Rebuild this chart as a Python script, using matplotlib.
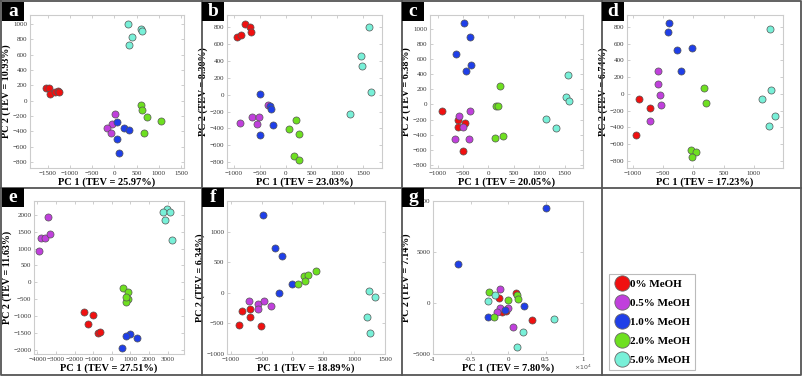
import matplotlib
matplotlib.use("Agg")
import matplotlib.pyplot as plt
from matplotlib.lines import Line2D
from matplotlib.patches import Rectangle
import numpy as np

plt.rcParams['font.family'] = ['Liberation Serif', 'DejaVu Serif']

groups = ['0% MeOH', '0.5% MeOH', '1.0% MeOH', '2.0% MeOH', '5.0% MeOH']
colors = ['#f01010', '#c040dc', '#1f3fe8', '#6ee020', '#78f0d8']

# PCA scores per panel: {group: (pc1 list, pc2 list)}
a_pts = {
    '0% MeOH': ([-1530, -1480, -1450, -1340, -1280, -1250], [160, 170, 90, 120, 130, 120]),
    '0.5% MeOH': ([8, -45, -160, -70], [-170, -300, -360, -420]),
    '1.0% MeOH': ([70, 220, 320, 60, 106], [-280, -356, -378, -496, -683]),
    '2.0% MeOH': ([610, 630, 730, 1050, 665], [-52, -117, -217, -260, -420]),
    '5.0% MeOH': ([310, 590, 630, 390, 325], [1000, 935, 905, 830, 722]),
}
b_pts = {
    '0% MeOH': ([-930, -860, -790, -686, -673], [685, 704, 836, 800, 740]),
    '0.5% MeOH': ([-346, -641, -519, -545, -872], [-119, -265, -261, -352, -336]),
    '1.0% MeOH': ([-487, -301, -276, -244, -487], [7, -131, -174, -364, -482]),
    '2.0% MeOH': ([199, 70, 256, 160, 263], [-299, -406, -465, -726, -773]),
    '5.0% MeOH': ([1609, 1449, 1474, 1641, 1244], [808, 464, 345, 29, -228]),
}
c_pts = {
    '0% MeOH': ([-922, -595, -595, -458, -510], [-84, -208, -305, -248, -615]),
    '0.5% MeOH': ([-588, -363, -510, -660, -392], [-159, -93, -305, -460, -456]),
    '1.0% MeOH': ([-480, -363, -631, -350, -435], [1088, 903, 668, 531, 451]),
    '2.0% MeOH': ([229, 157, 190, 288, 131], [243, -27, -27, -425, -447]),
    '5.0% MeOH': ([1569, 1516, 1588, 1137, 1320], [398, 93, 49, -195, -319]),
}
d_pts = {
    '0% MeOH': ([-898, -710, -953], [-56, -170, -487]),
    '0.5% MeOH': ([-584, -584, -551, -529, -716], [273, 111, -12, -135, -329]),
    '1.0% MeOH': ([-402, -424, -264, -17, -198], [840, 741, 523, 543, 277]),
    '2.0% MeOH': ([176, 204, -39, 44, -22], [67, -115, -669, -693, -752]),
    '5.0% MeOH': ([1261, 1283, 1134, 1355, 1244], [772, 40, -56, -261, -380]),
}
e_pts = {
    '0% MeOH': ([-1508, -1005, -1275, -736, -646], [-889, -968, -1235, -1492, -1463]),
    '0.5% MeOH': ([-3429, -3788, -3590, -3303, -3914], [1941, 1308, 1328, 1437, 943]),
    '1.0% MeOH': ([969, 790, 1364, 575], [-1522, -1581, -1660, -1957]),
    '2.0% MeOH': ([610, 880, 880, 754, 754], [-158, -286, -484, -573, -424]),
    '5.0% MeOH': ([2944, 2765, 3124, 2837, 3232], [2178, 2099, 2099, 1842, 1245]),
}
f_pts = {
    '0% MeOH': ([-819, -691, -685, -867, -509], [-296, -263, -400, -526, -542]),
    '0.5% MeOH': ([-707, -551, -455, -562, -348], [-142, -181, -131, -257, -219]),
    '1.0% MeOH': ([-471, -278, -166, 0, -225], [1276, 728, 597, 137, 0]),
    '2.0% MeOH': ([86, 193, 257, 203, 385], [137, 279, 290, 192, 350]),
    '5.0% MeOH': ([1247, 1338, 1210, 1253], [27, -71, -400, -657]),
}
g_pts = {
    '0% MeOH': ([-1200, 1110, 3160, -840, -220], [523, 948, -1634, -850, -784]),
    '0.5% MeOH': ([-1110, -1110, -1470, 40, 620], [1405, -523, -915, -490, -2353]),
    '1.0% MeOH': ([5110, -6670, 2130, -2710, -440], [9346, 3856, -294, -1405, -654]),
    '2.0% MeOH': ([-2530, 40, 1200, 1380, -1820], [1046, 327, 784, 392, -1405]),
    '5.0% MeOH': ([6130, -2710, -1690, 2000, 1160], [-1569, 196, 784, -2810, -4346]),
}

panels = [
    # letter, data, tev1, tev2, xlim, ylim, xticks, yticks, axes rect (px: left, top, right, bottom)
    ('a', a_pts, '25.97', '10.93', (-1900, 1570), (-880, 1120),
     np.arange(-1500, 1501, 500), np.arange(-800, 1001, 200), (30, 15, 184, 168)),
    ('b', b_pts, '23.03', '8.30', (-1130, 1860), (-870, 945),
     np.arange(-1000, 1501, 500), np.arange(-800, 801, 200), (227, 15, 382, 168)),
    ('c', c_pts, '20.05', '6.38', (-1150, 1860), (-845, 1190),
     np.arange(-1000, 1501, 500), np.arange(-800, 1001, 200), (430, 15, 583, 168)),
    ('d', d_pts, '17.23', '6.74', (-1095, 1480), (-885, 940),
     np.arange(-1000, 1001, 500), np.arange(-800, 801, 200), (627, 15, 783, 168)),
    ('e', e_pts, '27.51', '11.63', (-4180, 3880), (-2130, 2415),
     np.arange(-4000, 3001, 1000), np.arange(-2000, 2001, 500), (34, 201, 184, 354)),
    ('f', f_pts, '18.89', '6.34', (-1060, 1500), (-1000, 1500),
     np.arange(-1000, 1501, 500), np.arange(-1000, 1501, 500), (227, 201, 385, 354)),
    ('g', g_pts, '7.80', '7.14', (-10000, 10000), (-5000, 10000),
     np.arange(-10000, 10001, 5000), np.arange(-5000, 10001, 5000), (433, 201, 583, 354)),
]

W, H = 805, 377
fig = plt.figure(figsize=(W / 100, H / 100), dpi=100)

for letter, pts, tev1, tev2, xl, yl, xt, yt, (l, t, r, b) in panels:
    ax = fig.add_axes([l / W, 1 - b / H, (r - l) / W, (b - t) / H])
    for g, c in zip(groups, colors):
        xs, ys = pts[g]
        ax.scatter(xs, ys, s=26, c=c, edgecolors='#555555', linewidths=0.5, zorder=3)
    ax.set_xlim(*xl)
    ax.set_ylim(*yl)
    ax.set_xticks(xt)
    ax.set_yticks(yt)
    if letter == 'g':
        ax.set_xticklabels([f'{v / 1e4:g}' for v in xt])
        ax.text(1.0, -0.09, r'$\times10^4$', transform=ax.transAxes, fontsize=4.5,
                color='#555555', ha='center', va='center')
    ax.tick_params(direction='in', length=2, width=0.5, labelsize=5,
                   colors='#bbbbbb', labelcolor='#333333', top=True, right=True, pad=2)
    for sp in ax.spines.values():
        sp.set_color('#cccccc')
        sp.set_linewidth(0.8)
    ax.set_xlabel(f'PC 1 (TEV = {tev1}%)', fontsize=7.5, fontweight='bold', labelpad=1)
    ax.set_ylabel(f'PC 2 (TEV = {tev2}%)', fontsize=7.2, fontweight='bold', labelpad=1)

# panel frames
line_kw = dict(color='#555555', lw=1.3, transform=fig.transFigure, clip_on=False)
def fx(px):
    return px / W
def fy(py):
    return 1 - py / H
fig.add_artist(Line2D([fx(1), fx(801), fx(801), fx(1), fx(1)],
                      [fy(1), fy(1), fy(375), fy(375), fy(1)], **line_kw))
fig.add_artist(Line2D([fx(1), fx(801)], [fy(188), fy(188)], **line_kw))
for xv in (202, 402, 602):
    fig.add_artist(Line2D([fx(xv), fx(xv)], [fy(1), fy(375)], **line_kw))

# letter boxes
boxes = [('a', 2, 2), ('b', 202, 2), ('c', 402, 2), ('d', 602, 2),
         ('e', 2, 188), ('f', 202, 188), ('g', 402, 188)]
for letter, bx, by in boxes:
    fig.add_artist(Rectangle((fx(bx), fy(by + 19)), 22 / W, 19 / H,
                             transform=fig.transFigure, facecolor='black',
                             edgecolor='none', zorder=5))
    fig.text(fx(bx + 11), fy(by + 9.5), letter, color='white', fontsize=14,
             fontweight='bold', ha='center', va='center', zorder=6)

# legend
handles = [Line2D([], [], ls='none', marker='o', markersize=11, markerfacecolor=c,
                  markeredgecolor='#666666', markeredgewidth=0.6) for c in colors]
leg = fig.legend(handles, groups, loc='upper left',
                 bbox_to_anchor=(fx(609), fy(274)), prop={'size': 8, 'weight': 'bold'},
                 frameon=True, fancybox=False, edgecolor='#aaaaaa', borderpad=0.5,
                 handletextpad=0.05, labelspacing=0.82, handlelength=1.3,
                 borderaxespad=0)
leg.get_frame().set_linewidth(0.8)

fig.savefig('out.png', dpi=100)
